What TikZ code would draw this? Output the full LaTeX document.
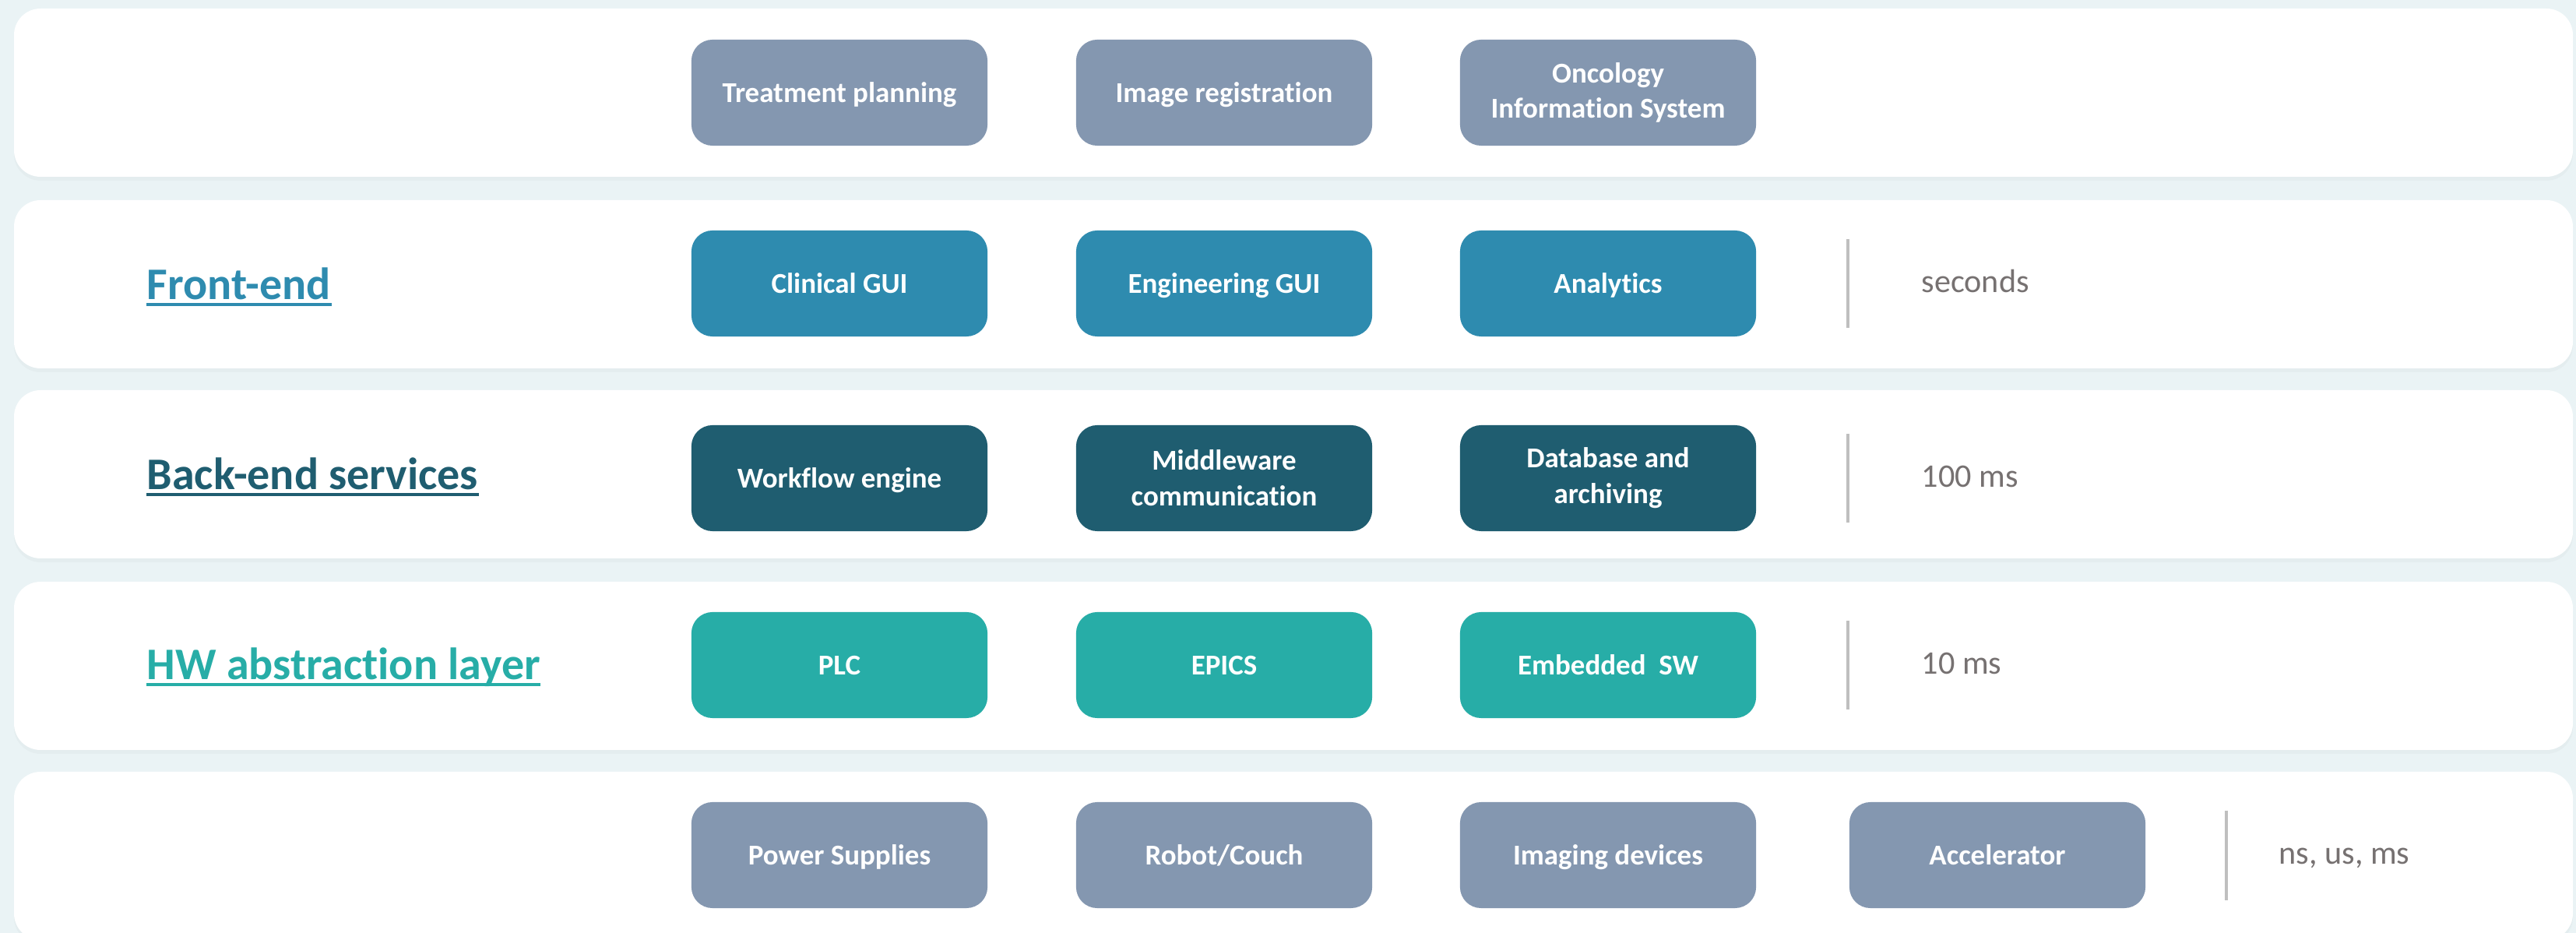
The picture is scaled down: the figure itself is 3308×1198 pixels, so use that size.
\documentclass[tikz,border=0pt]{standalone}
\usepackage{fontspec}
\setmainfont{Carlito}[Ligatures=NoCommon]
\usetikzlibrary{positioning, shadows}

\definecolor{pagebg}{RGB}{234,243,245}
\definecolor{slate}{RGB}{132,151,176}
\definecolor{frontc}{RGB}{46,139,175}
\definecolor{backc}{RGB}{31,93,112}
\definecolor{hwc}{RGB}{39,173,167}
\definecolor{timec}{RGB}{118,113,113}
\definecolor{barc}{RGB}{191,191,191}

\tikzset{
	band/.style={fill=white, rounded corners=0.34cm,
		drop shadow={opacity=0.05, shadow xshift=0pt, shadow yshift=-1.4pt}},
	module/.style={rounded corners=0.27cm, minimum width=3.8cm, minimum height=1.36cm,
		inner sep=0, text=white, align=center, text height=0.7em, text depth=0pt,
		font=\bfseries\fontsize{10.5}{13}\selectfont},
	twolines/.style={text height={}, text depth={}},
	layerlabel/.style={anchor=base west, inner sep=0, font=\bfseries\fontsize{16.5}{20}\selectfont},
	timelabel/.style={anchor=base west, inner sep=0, text=timec, font=\fontsize{12}{14}\selectfont},
	tickbar/.style={draw=barc, line width=1.4pt}
}

\begin{document}
\begin{tikzpicture}[x=0.01cm, y=-0.01cm]
	\useasboundingbox (0,0) rectangle (3308,1198);
	\fill[pagebg] (0,0) rectangle (3308,1198);
	\clip (0,0) rectangle (3308,1198);

	% white bands, one per layer
	\foreach \top in {11, 257, 501, 747, 991} {
		\fill[band] (18,\top) rectangle (3304,\top+216);
	}

	% layer names
	\node[layerlabel, text=frontc] (lfront) at (188,385) {Front-end};
	\node[layerlabel, text=backc] (lback) at (188,629) {Back-end services};
	\node[layerlabel, text=hwc] (lhw) at (188,873) {HW abstraction layer};
	\foreach \lbl/\col in {lfront/frontc, lback/backc, lhw/hwc} {
		\draw[\col, line width=1.2pt] ([yshift=-1.6pt]\lbl.base west) -- ([yshift=-1.6pt]\lbl.base east);
	}

	% applications
	\node[module, fill=slate] (tp) at (1078,119) {Treatment planning};
	\node[module, fill=slate] (ir) at (1572,119) {Image registration};
	\node[module, fill=slate, twolines] (ois) at (2065,119) {Oncology\\Information System};

	% front-end
	\node[module, fill=frontc] (cgui) at (1078,364) {Clinical GUI};
	\node[module, fill=frontc] (egui) at (1572,364) {Engineering GUI};
	\node[module, fill=frontc] (ana) at (2065,364) {Analytics};

	% back-end services
	\node[module, fill=backc] (wf) at (1078,614) {Workflow engine};
	\node[module, fill=backc, twolines] (mw) at (1572,614) {Middleware\\communication};
	\node[module, fill=backc, twolines] (db) at (2065,614) {Database and\\archiving};

	% hardware abstraction
	\node[module, fill=hwc] (plc) at (1078,854) {PLC};
	\node[module, fill=hwc] (epics) at (1572,854) {EPICS};
	\node[module, fill=hwc] (emb) at (2065,854) {Embedded~ SW};

	% devices
	\node[module, fill=slate] (ps) at (1078,1098) {Power Supplies};
	\node[module, fill=slate] (robot) at (1572,1098) {Robot/Couch};
	\node[module, fill=slate] (img) at (2065,1098) {Imaging devices};
	\node[module, fill=slate] (acc) at (2565,1098) {Accelerator};

	% time scales
	\foreach \y/\t [count=\i] in {364/seconds, 614/100 ms, 854/10 ms} {
		\draw[tickbar] (2373,\y-57) -- (2373,\y+57);
		\node[timelabel] (time\i) at (2467,\y+12) {\t};
	}
	\draw[tickbar] (2859,1041) -- (2859,1156);
	\node[timelabel] (time4) at (2926,1110) {ns, us, ms};
\end{tikzpicture}
\end{document}
